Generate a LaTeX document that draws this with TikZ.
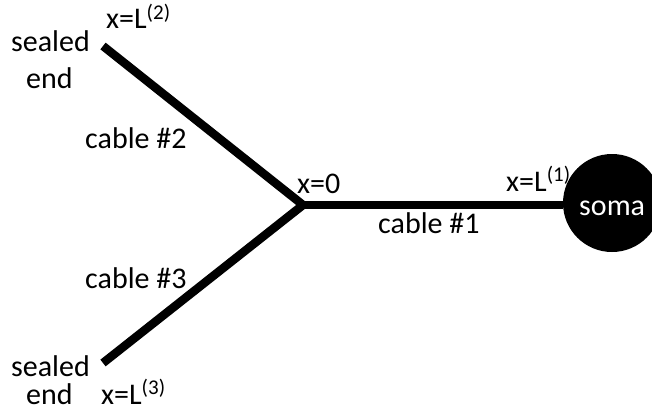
\documentclass[tikz,border=0pt]{standalone}
\usepackage{fontspec}
\setmainfont{Carlito}
\begin{document}
\begin{tikzpicture}[x=1pt,y=-1pt,
  cable/.style={line width=8.5pt},
  lbl/.style={inner sep=0pt, anchor=base west, font=\fontsize{30}{34}\selectfont},
  somabody/.style={circle, fill=black, minimum size=98pt, inner sep=0pt}]
\useasboundingbox (0,0) rectangle (652,412);
\begin{scope}
\clip (0,0) rectangle (652,412);
% branch points
\coordinate (j) at (303,205);
\coordinate (e2) at (103,46);
\coordinate (e3) at (103,363);
\node[somabody] (soma) at (612,203) {};
\node[lbl, text=white] (somatxt) at (579,215) {soma};
% cables
\draw[cable] (e2) -- (j);
\draw[cable] (e3) -- (j);
\draw[cable] (j) -- (soma.west |- j);
\end{scope}
% labels
\node[lbl] (t2) at (106,29) {x=L\textsuperscript{(2)}};
\node[lbl] (s2a) at (11,52) {sealed};
\node[lbl] (s2b) at (26,88) {end};
\node[lbl] (c2) at (85,148) {cable \#2};
\node[lbl] (x0) at (297,193) {x=0};
\node[lbl] (c1) at (378,233) {cable \#1};
\node[lbl] (t1) at (506,191) {x=L\textsuperscript{(1)}};
\node[lbl] (c3) at (85,288) {cable \#3};
\node[lbl] (s3a) at (11,376) {sealed};
\node[lbl] (s3b) at (26,404) {end};
\node[lbl] (t3) at (101,404) {x=L\textsuperscript{(3)}};
\end{tikzpicture}
\end{document}
